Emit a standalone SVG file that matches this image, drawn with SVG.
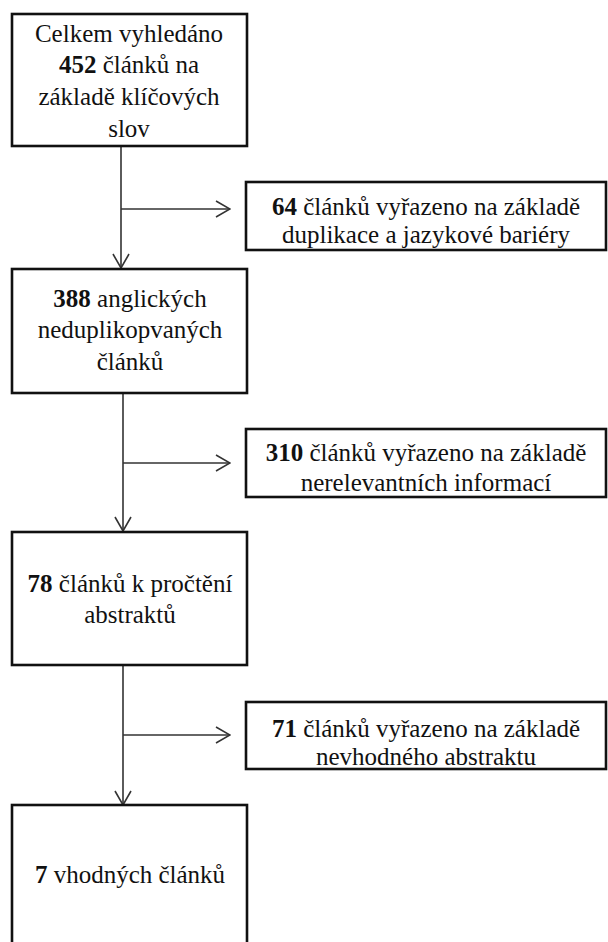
<svg xmlns="http://www.w3.org/2000/svg" width="608" height="942" viewBox="0 0 608 942">
<style>
.box{fill:#fff;stroke:#111;stroke-width:2.6}
.t{font-family:'Liberation Serif','Times New Roman','Tinos','DejaVu Serif',serif;font-size:25px;fill:#111;text-anchor:middle}
.b{font-weight:bold}
.c{fill:none;stroke:#333;stroke-width:1.6}
</style>
<defs>
<marker id="ah" markerUnits="userSpaceOnUse" viewBox="0 0 16 20" refX="15" refY="10" markerWidth="16" markerHeight="20" orient="auto">
<path d="M1,2 L15,10 L1,18" fill="none" stroke="#333" stroke-width="1.6"/>
</marker>
</defs>
<rect width="608" height="942" fill="#fff"/>
<g id="connectors">
<line class="c" x1="121" y1="146" x2="121" y2="268" marker-end="url(#ah)"/>
<line class="c" x1="121" y1="209" x2="230" y2="209" marker-end="url(#ah)"/>
<line class="c" x1="123" y1="393" x2="123" y2="531" marker-end="url(#ah)"/>
<line class="c" x1="123" y1="463" x2="230" y2="463" marker-end="url(#ah)"/>
<line class="c" x1="123" y1="635" x2="123" y2="805" marker-end="url(#ah)"/>
<line class="c" x1="123" y1="735" x2="230" y2="735" marker-end="url(#ah)"/>
</g>
<g font-family="Liberation Serif, serif">
<g id="n1">
<rect class="box" x="12" y="14" width="235" height="132"/>
<text class="t" x="129" y="42">Celkem vyhledáno</text>
<text class="t" x="129" y="73"><tspan class="b">452</tspan> článků na</text>
<text class="t" x="129" y="105">základě klíčových</text>
<text class="t" x="129" y="137">slov</text>
</g>
<g id="n2">
<rect class="box" x="246" y="182" width="360" height="68"/>
<text class="t" x="426" y="215"><tspan class="b">64</tspan> článků vyřazeno na základě</text>
<text class="t" x="426" y="243">duplikace a jazykové bariéry</text>
</g>
<g id="n3">
<rect class="box" x="12" y="269" width="235" height="124"/>
<text class="t" x="130" y="307"><tspan class="b">388</tspan> anglických</text>
<text class="t" x="130" y="338">neduplikopvaných</text>
<text class="t" x="130" y="370">článků</text>
</g>
<g id="n4">
<rect class="box" x="246" y="429" width="360" height="68"/>
<text class="t" x="426" y="461"><tspan class="b">310</tspan> článků vyřazeno na základě</text>
<text class="t" x="426" y="491">nerelevantních informací</text>
</g>
<g id="n5">
<rect class="box" x="12" y="532" width="235" height="133"/>
<text class="t" x="130" y="592"><tspan class="b">78</tspan> článků k pročtění</text>
<text class="t" x="130" y="623">abstraktů</text>
</g>
<g id="n6">
<rect class="box" x="246" y="702" width="360" height="67"/>
<text class="t" x="426" y="737"><tspan class="b">71</tspan> článků vyřazeno na základě</text>
<text class="t" x="426" y="765">nevhodného abstraktu</text>
</g>
<g id="n7">
<rect class="box" x="12" y="805" width="235" height="145"/>
<text class="t" x="130" y="883"><tspan class="b">7</tspan> vhodných článků</text>
</g>
</g>
</svg>
